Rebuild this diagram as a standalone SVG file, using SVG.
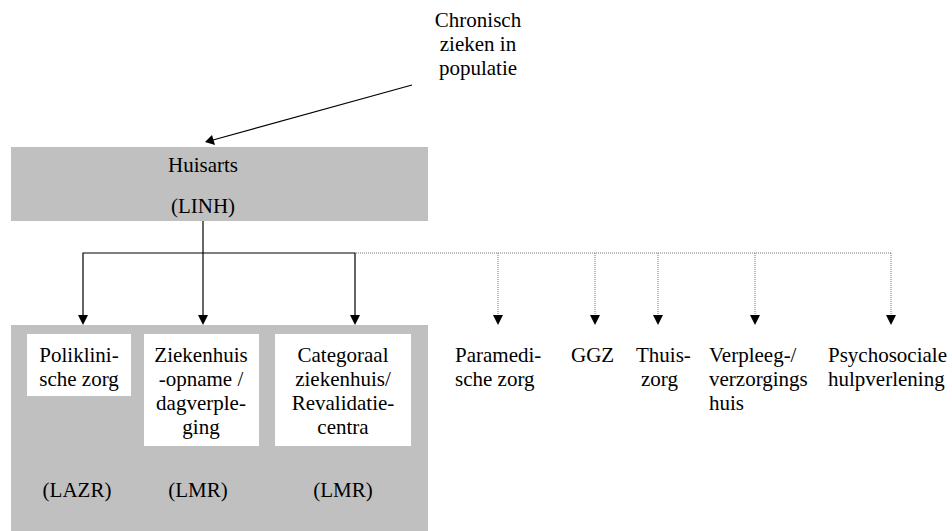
<svg xmlns="http://www.w3.org/2000/svg" width="952" height="531" viewBox="0 0 952 531">
  <rect width="952" height="531" fill="#fff"/>

  <g id="connectors">
    <!-- solid arrows: intake and referrals into the hospital block -->
    <g stroke="#000" stroke-width="1.2" fill="none">
      <line x1="412" y1="85" x2="213" y2="140"/>
      <line x1="203" y1="221" x2="203" y2="316"/>
      <polyline points="83,316 83,253 355,253 355,316"/>
    </g>
    <g fill="#000">
      <polygon points="205,142 212,135 215,145"/>
      <polygon points="198,315 208,315 203,325"/>
      <polygon points="78,315 88,315 83,325"/>
      <polygon points="350,315 360,315 355,325"/>
    </g>
    <!-- dotted arrows: other care services -->
    <g stroke="#777" stroke-width="1" stroke-dasharray="1 1" fill="none">
      <line x1="356" y1="253" x2="891" y2="253"/>
      <line x1="498" y1="253" x2="498" y2="316"/>
      <line x1="595" y1="253" x2="595" y2="316"/>
      <line x1="658" y1="253" x2="658" y2="316"/>
      <line x1="755" y1="253" x2="755" y2="316"/>
      <line x1="891" y1="253" x2="891" y2="316"/>
    </g>
    <g fill="#000">
      <polygon points="493,315 503,315 498,325"/>
      <polygon points="590,315 600,315 595,325"/>
      <polygon points="653,315 663,315 658,325"/>
      <polygon points="750,315 760,315 755,325"/>
      <polygon points="886,315 896,315 891,325"/>
    </g>
  </g>

  <g id="chronisch">
    <text font-family="Liberation Serif" font-size="21" text-anchor="middle" x="478" y="27">Chronisch</text>
    <text font-family="Liberation Serif" font-size="21" text-anchor="middle" x="478" y="51">zieken in</text>
    <text font-family="Liberation Serif" font-size="21" text-anchor="middle" x="478" y="75">populatie</text>
  </g>

  <g id="huisarts">
    <rect x="11" y="147" width="417" height="74" fill="#c0c0c0"/>
    <text font-family="Liberation Serif" font-size="21" text-anchor="middle" x="203" y="172">Huisarts</text>
    <text font-family="Liberation Serif" font-size="21" text-anchor="middle" x="203" y="213">(LINH)</text>
  </g>

  <g id="tweede-lijn">
    <rect x="11" y="325" width="417" height="206" fill="#c0c0c0"/>
    <text font-family="Liberation Serif" font-size="21" text-anchor="middle" x="77" y="497">(LAZR)</text>
    <text font-family="Liberation Serif" font-size="21" text-anchor="middle" x="198" y="497">(LMR)</text>
    <text font-family="Liberation Serif" font-size="21" text-anchor="middle" x="343" y="497">(LMR)</text>
  </g>

  <g id="polikliniek">
    <rect x="27" y="334" width="104" height="62" fill="#fff"/>
    <text font-family="Liberation Serif" font-size="21" text-anchor="middle" x="79" y="362">Poliklini-</text>
    <text font-family="Liberation Serif" font-size="21" text-anchor="middle" x="79" y="386">sche zorg</text>
  </g>

  <g id="ziekenhuis">
    <rect x="144" y="334" width="115" height="112" fill="#fff"/>
    <text font-family="Liberation Serif" font-size="21" text-anchor="middle" x="201" y="362">Ziekenhuis</text>
    <text font-family="Liberation Serif" font-size="21" text-anchor="middle" x="201" y="386">-opname /</text>
    <text font-family="Liberation Serif" font-size="21" text-anchor="middle" x="201" y="410">dagverple-</text>
    <text font-family="Liberation Serif" font-size="21" text-anchor="middle" x="201" y="434">ging</text>
  </g>

  <g id="categoraal">
    <rect x="275" y="334" width="136" height="112" fill="#fff"/>
    <text font-family="Liberation Serif" font-size="21" text-anchor="middle" x="343" y="362">Categoraal</text>
    <text font-family="Liberation Serif" font-size="21" text-anchor="middle" x="343" y="386">ziekenhuis/</text>
    <text font-family="Liberation Serif" font-size="21" text-anchor="middle" x="343" y="410">Revalidatie-</text>
    <text font-family="Liberation Serif" font-size="21" text-anchor="middle" x="343" y="434">centra</text>
  </g>

  <g id="paramedisch">
    <text font-family="Liberation Serif" font-size="21" x="455" y="362">Paramedi-</text>
    <text font-family="Liberation Serif" font-size="21" x="455" y="386">sche zorg</text>
  </g>

  <g id="ggz">
    <text font-family="Liberation Serif" font-size="21" x="571" y="362">GGZ</text>
  </g>

  <g id="thuiszorg">
    <text font-family="Liberation Serif" font-size="21" x="636" y="362">Thuis-</text>
    <text font-family="Liberation Serif" font-size="21" x="641" y="386">zorg</text>
  </g>

  <g id="verpleeghuis">
    <text font-family="Liberation Serif" font-size="21" x="709" y="362">Verpleeg-/</text>
    <text font-family="Liberation Serif" font-size="21" x="709" y="386">verzorgings</text>
    <text font-family="Liberation Serif" font-size="21" x="709" y="410">huis</text>
  </g>

  <g id="psychosociaal">
    <text font-family="Liberation Serif" font-size="21" x="828" y="362">Psychosociale</text>
    <text font-family="Liberation Serif" font-size="21" x="828" y="386">hulpverlening</text>
  </g>
</svg>
